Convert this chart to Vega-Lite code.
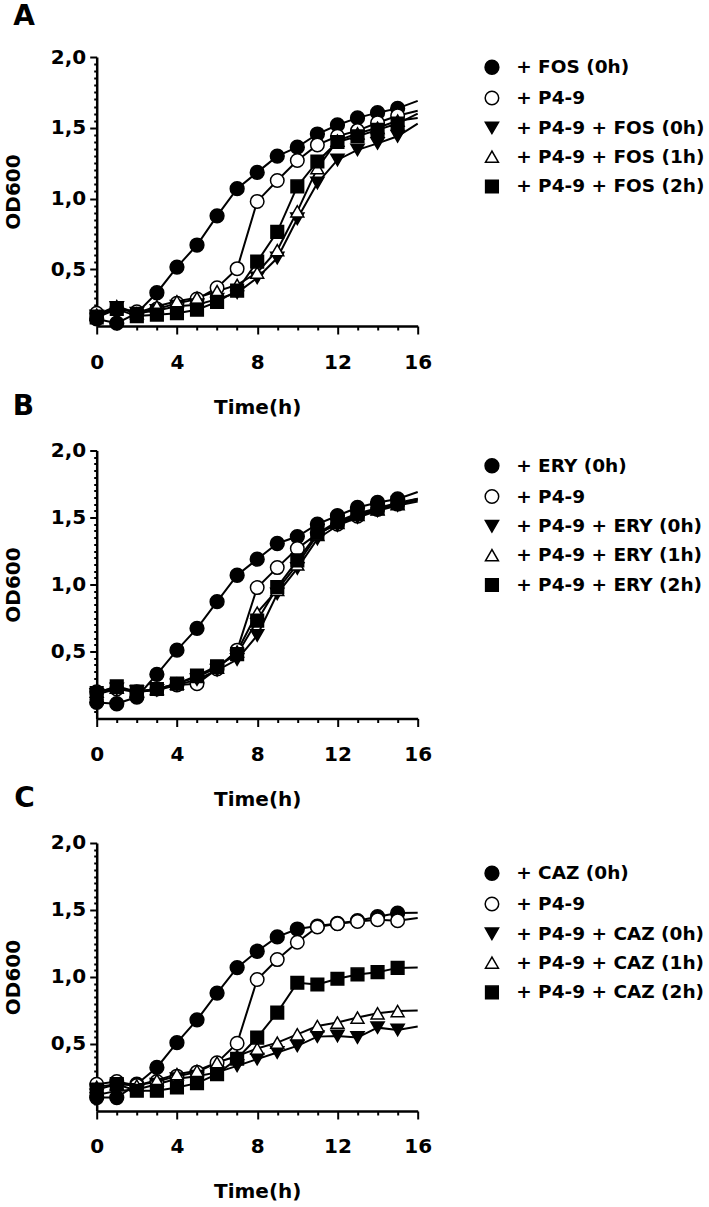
{
"$schema": "https://vega.github.io/schema/vega-lite/v6.json",
"autosize": {"type": "pad"},
"padding": {"left": 2.7, "top": 3, "right": 0, "bottom": 0},
"bounds": "flush",
"spacing": 124.5,
"config": {
  "font": "DejaVu Sans",
  "view": {"stroke": null},
  "axis": {"domainColor": "black", "domainWidth": 2.5, "tickColor": "black", "tickWidth": 2, "labelFont": "DejaVu Sans", "labelFontSize": 20, "labelFontWeight": "bold", "labelColor": "black", "titleFont": "DejaVu Sans", "titleFontSize": 20, "titleFontWeight": "bold", "titleColor": "black", "grid": false, "labelFlush": false, "labelOverlap": false},
  "legend": {"labelFont": "DejaVu Sans", "labelFontSize": 18.5, "labelFontWeight": "bold", "labelColor": "black", "rowPadding": 9.8, "labelOffset": 15, "symbolStrokeColor": "black", "symbolStrokeWidth": 1.5, "symbolOpacity": 1, "labelLimit": 400},
  "title": {"font": "DejaVu Sans", "fontSize": 28, "fontWeight": "bold", "color": "black", "anchor": "start", "frame": "group", "baseline": "alphabetic"}
},
"datasets": {"g": [
{"p":"A","s":"+ FOS (0h)","t":0,"v":0.15},{"p":"A","s":"+ FOS (0h)","t":1,"v":0.12},{"p":"A","s":"+ FOS (0h)","t":2,"v":0.19},{"p":"A","s":"+ FOS (0h)","t":3,"v":0.335},{"p":"A","s":"+ FOS (0h)","t":4,"v":0.516},{"p":"A","s":"+ FOS (0h)","t":5,"v":0.672},{"p":"A","s":"+ FOS (0h)","t":6,"v":0.878},{"p":"A","s":"+ FOS (0h)","t":7,"v":1.07},{"p":"A","s":"+ FOS (0h)","t":8,"v":1.185},{"p":"A","s":"+ FOS (0h)","t":9,"v":1.3},{"p":"A","s":"+ FOS (0h)","t":10,"v":1.363},{"p":"A","s":"+ FOS (0h)","t":11,"v":1.456},{"p":"A","s":"+ FOS (0h)","t":12,"v":1.52},{"p":"A","s":"+ FOS (0h)","t":13,"v":1.57},{"p":"A","s":"+ FOS (0h)","t":14,"v":1.607},{"p":"A","s":"+ FOS (0h)","t":15,"v":1.637},{"p":"A","s":"+ FOS (0h)","t":16,"v":1.69},
{"p":"A","s":"+ P4-9","t":0,"v":0.19},{"p":"A","s":"+ P4-9","t":1,"v":0.22},{"p":"A","s":"+ P4-9","t":2,"v":0.2},{"p":"A","s":"+ P4-9","t":3,"v":0.22},{"p":"A","s":"+ P4-9","t":4,"v":0.26},{"p":"A","s":"+ P4-9","t":5,"v":0.29},{"p":"A","s":"+ P4-9","t":6,"v":0.37},{"p":"A","s":"+ P4-9","t":7,"v":0.505},{"p":"A","s":"+ P4-9","t":8,"v":0.98},{"p":"A","s":"+ P4-9","t":9,"v":1.128},{"p":"A","s":"+ P4-9","t":10,"v":1.269},{"p":"A","s":"+ P4-9","t":11,"v":1.379},{"p":"A","s":"+ P4-9","t":12,"v":1.44},{"p":"A","s":"+ P4-9","t":13,"v":1.48},{"p":"A","s":"+ P4-9","t":14,"v":1.536},{"p":"A","s":"+ P4-9","t":15,"v":1.585},{"p":"A","s":"+ P4-9","t":16,"v":1.62},
{"p":"A","s":"+ P4-9 + FOS (0h)","t":0,"v":0.17},{"p":"A","s":"+ P4-9 + FOS (0h)","t":1,"v":0.23},{"p":"A","s":"+ P4-9 + FOS (0h)","t":2,"v":0.19},{"p":"A","s":"+ P4-9 + FOS (0h)","t":3,"v":0.21},{"p":"A","s":"+ P4-9 + FOS (0h)","t":4,"v":0.24},{"p":"A","s":"+ P4-9 + FOS (0h)","t":5,"v":0.25},{"p":"A","s":"+ P4-9 + FOS (0h)","t":6,"v":0.29},{"p":"A","s":"+ P4-9 + FOS (0h)","t":7,"v":0.335},{"p":"A","s":"+ P4-9 + FOS (0h)","t":8,"v":0.44},{"p":"A","s":"+ P4-9 + FOS (0h)","t":9,"v":0.58},{"p":"A","s":"+ P4-9 + FOS (0h)","t":10,"v":0.857},{"p":"A","s":"+ P4-9 + FOS (0h)","t":11,"v":1.11},{"p":"A","s":"+ P4-9 + FOS (0h)","t":12,"v":1.273},{"p":"A","s":"+ P4-9 + FOS (0h)","t":13,"v":1.344},{"p":"A","s":"+ P4-9 + FOS (0h)","t":14,"v":1.39},{"p":"A","s":"+ P4-9 + FOS (0h)","t":15,"v":1.44},{"p":"A","s":"+ P4-9 + FOS (0h)","t":16,"v":1.53},
{"p":"A","s":"+ P4-9 + FOS (1h)","t":0,"v":0.18},{"p":"A","s":"+ P4-9 + FOS (1h)","t":1,"v":0.24},{"p":"A","s":"+ P4-9 + FOS (1h)","t":2,"v":0.19},{"p":"A","s":"+ P4-9 + FOS (1h)","t":3,"v":0.24},{"p":"A","s":"+ P4-9 + FOS (1h)","t":4,"v":0.275},{"p":"A","s":"+ P4-9 + FOS (1h)","t":5,"v":0.3},{"p":"A","s":"+ P4-9 + FOS (1h)","t":6,"v":0.346},{"p":"A","s":"+ P4-9 + FOS (1h)","t":7,"v":0.39},{"p":"A","s":"+ P4-9 + FOS (1h)","t":8,"v":0.477},{"p":"A","s":"+ P4-9 + FOS (1h)","t":9,"v":0.636},{"p":"A","s":"+ P4-9 + FOS (1h)","t":10,"v":0.91},{"p":"A","s":"+ P4-9 + FOS (1h)","t":11,"v":1.215},{"p":"A","s":"+ P4-9 + FOS (1h)","t":12,"v":1.41},{"p":"A","s":"+ P4-9 + FOS (1h)","t":13,"v":1.46},{"p":"A","s":"+ P4-9 + FOS (1h)","t":14,"v":1.5},{"p":"A","s":"+ P4-9 + FOS (1h)","t":15,"v":1.55},{"p":"A","s":"+ P4-9 + FOS (1h)","t":16,"v":1.57},
{"p":"A","s":"+ P4-9 + FOS (2h)","t":0,"v":0.16},{"p":"A","s":"+ P4-9 + FOS (2h)","t":1,"v":0.22},{"p":"A","s":"+ P4-9 + FOS (2h)","t":2,"v":0.17},{"p":"A","s":"+ P4-9 + FOS (2h)","t":3,"v":0.18},{"p":"A","s":"+ P4-9 + FOS (2h)","t":4,"v":0.19},{"p":"A","s":"+ P4-9 + FOS (2h)","t":5,"v":0.215},{"p":"A","s":"+ P4-9 + FOS (2h)","t":6,"v":0.27},{"p":"A","s":"+ P4-9 + FOS (2h)","t":7,"v":0.35},{"p":"A","s":"+ P4-9 + FOS (2h)","t":8,"v":0.555},{"p":"A","s":"+ P4-9 + FOS (2h)","t":9,"v":0.765},{"p":"A","s":"+ P4-9 + FOS (2h)","t":10,"v":1.086},{"p":"A","s":"+ P4-9 + FOS (2h)","t":11,"v":1.262},{"p":"A","s":"+ P4-9 + FOS (2h)","t":12,"v":1.4},{"p":"A","s":"+ P4-9 + FOS (2h)","t":13,"v":1.44},{"p":"A","s":"+ P4-9 + FOS (2h)","t":14,"v":1.485},{"p":"A","s":"+ P4-9 + FOS (2h)","t":15,"v":1.53},{"p":"A","s":"+ P4-9 + FOS (2h)","t":16,"v":1.6},
{"p":"B","s":"+ ERY (0h)","t":0,"v":0.12},{"p":"B","s":"+ ERY (0h)","t":1,"v":0.11},{"p":"B","s":"+ ERY (0h)","t":2,"v":0.16},{"p":"B","s":"+ ERY (0h)","t":3,"v":0.33},{"p":"B","s":"+ ERY (0h)","t":4,"v":0.51},{"p":"B","s":"+ ERY (0h)","t":5,"v":0.673},{"p":"B","s":"+ ERY (0h)","t":6,"v":0.872},{"p":"B","s":"+ ERY (0h)","t":7,"v":1.069},{"p":"B","s":"+ ERY (0h)","t":8,"v":1.189},{"p":"B","s":"+ ERY (0h)","t":9,"v":1.306},{"p":"B","s":"+ ERY (0h)","t":10,"v":1.358},{"p":"B","s":"+ ERY (0h)","t":11,"v":1.45},{"p":"B","s":"+ ERY (0h)","t":12,"v":1.513},{"p":"B","s":"+ ERY (0h)","t":13,"v":1.575},{"p":"B","s":"+ ERY (0h)","t":14,"v":1.612},{"p":"B","s":"+ ERY (0h)","t":15,"v":1.638},{"p":"B","s":"+ ERY (0h)","t":16,"v":1.69},
{"p":"B","s":"+ P4-9","t":0,"v":0.2},{"p":"B","s":"+ P4-9","t":1,"v":0.22},{"p":"B","s":"+ P4-9","t":2,"v":0.2},{"p":"B","s":"+ P4-9","t":3,"v":0.22},{"p":"B","s":"+ P4-9","t":4,"v":0.25},{"p":"B","s":"+ P4-9","t":5,"v":0.26},{"p":"B","s":"+ P4-9","t":6,"v":0.37},{"p":"B","s":"+ P4-9","t":7,"v":0.51},{"p":"B","s":"+ P4-9","t":8,"v":0.977},{"p":"B","s":"+ P4-9","t":9,"v":1.126},{"p":"B","s":"+ P4-9","t":10,"v":1.268},{"p":"B","s":"+ P4-9","t":11,"v":1.38},{"p":"B","s":"+ P4-9","t":12,"v":1.45},{"p":"B","s":"+ P4-9","t":13,"v":1.51},{"p":"B","s":"+ P4-9","t":14,"v":1.56},{"p":"B","s":"+ P4-9","t":15,"v":1.6},{"p":"B","s":"+ P4-9","t":16,"v":1.64},
{"p":"B","s":"+ P4-9 + ERY (0h)","t":0,"v":0.18},{"p":"B","s":"+ P4-9 + ERY (0h)","t":1,"v":0.22},{"p":"B","s":"+ P4-9 + ERY (0h)","t":2,"v":0.2},{"p":"B","s":"+ P4-9 + ERY (0h)","t":3,"v":0.21},{"p":"B","s":"+ P4-9 + ERY (0h)","t":4,"v":0.25},{"p":"B","s":"+ P4-9 + ERY (0h)","t":5,"v":0.29},{"p":"B","s":"+ P4-9 + ERY (0h)","t":6,"v":0.36},{"p":"B","s":"+ P4-9 + ERY (0h)","t":7,"v":0.44},{"p":"B","s":"+ P4-9 + ERY (0h)","t":8,"v":0.62},{"p":"B","s":"+ P4-9 + ERY (0h)","t":9,"v":0.93},{"p":"B","s":"+ P4-9 + ERY (0h)","t":10,"v":1.12},{"p":"B","s":"+ P4-9 + ERY (0h)","t":11,"v":1.34},{"p":"B","s":"+ P4-9 + ERY (0h)","t":12,"v":1.44},{"p":"B","s":"+ P4-9 + ERY (0h)","t":13,"v":1.5},{"p":"B","s":"+ P4-9 + ERY (0h)","t":14,"v":1.55},{"p":"B","s":"+ P4-9 + ERY (0h)","t":15,"v":1.59},{"p":"B","s":"+ P4-9 + ERY (0h)","t":16,"v":1.62},
{"p":"B","s":"+ P4-9 + ERY (1h)","t":0,"v":0.2},{"p":"B","s":"+ P4-9 + ERY (1h)","t":1,"v":0.23},{"p":"B","s":"+ P4-9 + ERY (1h)","t":2,"v":0.2},{"p":"B","s":"+ P4-9 + ERY (1h)","t":3,"v":0.22},{"p":"B","s":"+ P4-9 + ERY (1h)","t":4,"v":0.26},{"p":"B","s":"+ P4-9 + ERY (1h)","t":5,"v":0.31},{"p":"B","s":"+ P4-9 + ERY (1h)","t":6,"v":0.38},{"p":"B","s":"+ P4-9 + ERY (1h)","t":7,"v":0.5},{"p":"B","s":"+ P4-9 + ERY (1h)","t":8,"v":0.79},{"p":"B","s":"+ P4-9 + ERY (1h)","t":9,"v":0.96},{"p":"B","s":"+ P4-9 + ERY (1h)","t":10,"v":1.15},{"p":"B","s":"+ P4-9 + ERY (1h)","t":11,"v":1.37},{"p":"B","s":"+ P4-9 + ERY (1h)","t":12,"v":1.46},{"p":"B","s":"+ P4-9 + ERY (1h)","t":13,"v":1.52},{"p":"B","s":"+ P4-9 + ERY (1h)","t":14,"v":1.56},{"p":"B","s":"+ P4-9 + ERY (1h)","t":15,"v":1.6},{"p":"B","s":"+ P4-9 + ERY (1h)","t":16,"v":1.63},
{"p":"B","s":"+ P4-9 + ERY (2h)","t":0,"v":0.19},{"p":"B","s":"+ P4-9 + ERY (2h)","t":1,"v":0.24},{"p":"B","s":"+ P4-9 + ERY (2h)","t":2,"v":0.2},{"p":"B","s":"+ P4-9 + ERY (2h)","t":3,"v":0.22},{"p":"B","s":"+ P4-9 + ERY (2h)","t":4,"v":0.26},{"p":"B","s":"+ P4-9 + ERY (2h)","t":5,"v":0.32},{"p":"B","s":"+ P4-9 + ERY (2h)","t":6,"v":0.39},{"p":"B","s":"+ P4-9 + ERY (2h)","t":7,"v":0.48},{"p":"B","s":"+ P4-9 + ERY (2h)","t":8,"v":0.73},{"p":"B","s":"+ P4-9 + ERY (2h)","t":9,"v":0.98},{"p":"B","s":"+ P4-9 + ERY (2h)","t":10,"v":1.18},{"p":"B","s":"+ P4-9 + ERY (2h)","t":11,"v":1.38},{"p":"B","s":"+ P4-9 + ERY (2h)","t":12,"v":1.47},{"p":"B","s":"+ P4-9 + ERY (2h)","t":13,"v":1.53},{"p":"B","s":"+ P4-9 + ERY (2h)","t":14,"v":1.57},{"p":"B","s":"+ P4-9 + ERY (2h)","t":15,"v":1.61},{"p":"B","s":"+ P4-9 + ERY (2h)","t":16,"v":1.64},
{"p":"C","s":"+ CAZ (0h)","t":0,"v":0.1},{"p":"C","s":"+ CAZ (0h)","t":1,"v":0.1},{"p":"C","s":"+ CAZ (0h)","t":2,"v":0.2},{"p":"C","s":"+ CAZ (0h)","t":3,"v":0.325},{"p":"C","s":"+ CAZ (0h)","t":4,"v":0.51},{"p":"C","s":"+ CAZ (0h)","t":5,"v":0.68},{"p":"C","s":"+ CAZ (0h)","t":6,"v":0.88},{"p":"C","s":"+ CAZ (0h)","t":7,"v":1.07},{"p":"C","s":"+ CAZ (0h)","t":8,"v":1.192},{"p":"C","s":"+ CAZ (0h)","t":9,"v":1.299},{"p":"C","s":"+ CAZ (0h)","t":10,"v":1.358},{"p":"C","s":"+ CAZ (0h)","t":11,"v":1.38},{"p":"C","s":"+ CAZ (0h)","t":12,"v":1.4},{"p":"C","s":"+ CAZ (0h)","t":13,"v":1.42},{"p":"C","s":"+ CAZ (0h)","t":14,"v":1.45},{"p":"C","s":"+ CAZ (0h)","t":15,"v":1.477},{"p":"C","s":"+ CAZ (0h)","t":16,"v":1.48},
{"p":"C","s":"+ P4-9","t":0,"v":0.2},{"p":"C","s":"+ P4-9","t":1,"v":0.22},{"p":"C","s":"+ P4-9","t":2,"v":0.19},{"p":"C","s":"+ P4-9","t":3,"v":0.22},{"p":"C","s":"+ P4-9","t":4,"v":0.26},{"p":"C","s":"+ P4-9","t":5,"v":0.29},{"p":"C","s":"+ P4-9","t":6,"v":0.36},{"p":"C","s":"+ P4-9","t":7,"v":0.506},{"p":"C","s":"+ P4-9","t":8,"v":0.981},{"p":"C","s":"+ P4-9","t":9,"v":1.13},{"p":"C","s":"+ P4-9","t":10,"v":1.259},{"p":"C","s":"+ P4-9","t":11,"v":1.373},{"p":"C","s":"+ P4-9","t":12,"v":1.398},{"p":"C","s":"+ P4-9","t":13,"v":1.415},{"p":"C","s":"+ P4-9","t":14,"v":1.428},{"p":"C","s":"+ P4-9","t":15,"v":1.42},{"p":"C","s":"+ P4-9","t":16,"v":1.44},
{"p":"C","s":"+ P4-9 + CAZ (0h)","t":0,"v":0.12},{"p":"C","s":"+ P4-9 + CAZ (0h)","t":1,"v":0.15},{"p":"C","s":"+ P4-9 + CAZ (0h)","t":2,"v":0.16},{"p":"C","s":"+ P4-9 + CAZ (0h)","t":3,"v":0.2},{"p":"C","s":"+ P4-9 + CAZ (0h)","t":4,"v":0.24},{"p":"C","s":"+ P4-9 + CAZ (0h)","t":5,"v":0.26},{"p":"C","s":"+ P4-9 + CAZ (0h)","t":6,"v":0.288},{"p":"C","s":"+ P4-9 + CAZ (0h)","t":7,"v":0.337},{"p":"C","s":"+ P4-9 + CAZ (0h)","t":8,"v":0.387},{"p":"C","s":"+ P4-9 + CAZ (0h)","t":9,"v":0.436},{"p":"C","s":"+ P4-9 + CAZ (0h)","t":10,"v":0.486},{"p":"C","s":"+ P4-9 + CAZ (0h)","t":11,"v":0.555},{"p":"C","s":"+ P4-9 + CAZ (0h)","t":12,"v":0.56},{"p":"C","s":"+ P4-9 + CAZ (0h)","t":13,"v":0.548},{"p":"C","s":"+ P4-9 + CAZ (0h)","t":14,"v":0.622},{"p":"C","s":"+ P4-9 + CAZ (0h)","t":15,"v":0.605},{"p":"C","s":"+ P4-9 + CAZ (0h)","t":16,"v":0.63},
{"p":"C","s":"+ P4-9 + CAZ (1h)","t":0,"v":0.18},{"p":"C","s":"+ P4-9 + CAZ (1h)","t":1,"v":0.2},{"p":"C","s":"+ P4-9 + CAZ (1h)","t":2,"v":0.19},{"p":"C","s":"+ P4-9 + CAZ (1h)","t":3,"v":0.23},{"p":"C","s":"+ P4-9 + CAZ (1h)","t":4,"v":0.275},{"p":"C","s":"+ P4-9 + CAZ (1h)","t":5,"v":0.3},{"p":"C","s":"+ P4-9 + CAZ (1h)","t":6,"v":0.362},{"p":"C","s":"+ P4-9 + CAZ (1h)","t":7,"v":0.41},{"p":"C","s":"+ P4-9 + CAZ (1h)","t":8,"v":0.466},{"p":"C","s":"+ P4-9 + CAZ (1h)","t":9,"v":0.51},{"p":"C","s":"+ P4-9 + CAZ (1h)","t":10,"v":0.572},{"p":"C","s":"+ P4-9 + CAZ (1h)","t":11,"v":0.634},{"p":"C","s":"+ P4-9 + CAZ (1h)","t":12,"v":0.66},{"p":"C","s":"+ P4-9 + CAZ (1h)","t":13,"v":0.697},{"p":"C","s":"+ P4-9 + CAZ (1h)","t":14,"v":0.729},{"p":"C","s":"+ P4-9 + CAZ (1h)","t":15,"v":0.746},{"p":"C","s":"+ P4-9 + CAZ (1h)","t":16,"v":0.75},
{"p":"C","s":"+ P4-9 + CAZ (2h)","t":0,"v":0.16},{"p":"C","s":"+ P4-9 + CAZ (2h)","t":1,"v":0.2},{"p":"C","s":"+ P4-9 + CAZ (2h)","t":2,"v":0.151},{"p":"C","s":"+ P4-9 + CAZ (2h)","t":3,"v":0.151},{"p":"C","s":"+ P4-9 + CAZ (2h)","t":4,"v":0.176},{"p":"C","s":"+ P4-9 + CAZ (2h)","t":5,"v":0.208},{"p":"C","s":"+ P4-9 + CAZ (2h)","t":6,"v":0.275},{"p":"C","s":"+ P4-9 + CAZ (2h)","t":7,"v":0.39},{"p":"C","s":"+ P4-9 + CAZ (2h)","t":8,"v":0.548},{"p":"C","s":"+ P4-9 + CAZ (2h)","t":9,"v":0.734},{"p":"C","s":"+ P4-9 + CAZ (2h)","t":10,"v":0.957},{"p":"C","s":"+ P4-9 + CAZ (2h)","t":11,"v":0.944},{"p":"C","s":"+ P4-9 + CAZ (2h)","t":12,"v":0.987},{"p":"C","s":"+ P4-9 + CAZ (2h)","t":13,"v":1.019},{"p":"C","s":"+ P4-9 + CAZ (2h)","t":14,"v":1.036},{"p":"C","s":"+ P4-9 + CAZ (2h)","t":15,"v":1.068},{"p":"C","s":"+ P4-9 + CAZ (2h)","t":16,"v":1.07}
]},
"resolve": {"scale": {"shape": "independent", "fill": "independent", "size": "independent", "stroke": "independent", "x": "independent", "y": "independent"}, "legend": {"shape": "independent", "fill": "independent", "size": "independent", "stroke": "independent"}},
"vconcat": [
{
  "title": {"text": "A", "dx": -83.5, "offset": 16},
  "width": 321, "height": 269,
  "data": {"name": "g"},
  "transform": [{"filter": "datum.p == 'A'"}],
  "encoding": {
    "x": {"field": "t", "type": "quantitative", "scale": {"domain": [0, 16], "nice": false, "zero": false},
      "axis": {"title": "Time(h)", "values": [0,1,2,3,4,5,6,7,8,9,10,11,12,13,14,15,16], "labelExpr": "datum.value % 4 == 0 ? datum.label : ''", "tickSize": {"condition": {"test": "datum.value % 4 == 0", "value": 8}, "value": 4}, "labelPadding": 18, "titlePadding": 25}},
    "y": {"field": "v", "type": "quantitative", "scale": {"domain": [0.1, 2.0], "nice": false, "zero": false},
      "axis": {"title": "OD600", "values": [0.15,0.2,0.25,0.3,0.35,0.4,0.45,0.5,0.55,0.6,0.65,0.7,0.75,0.8,0.85,0.9,0.95,1,1.05,1.1,1.15,1.2,1.25,1.3,1.35,1.4,1.45,1.5,1.55,1.6,1.65,1.7,1.75,1.8,1.85,1.9,1.95,2], "labelExpr": "datum.value==0.5?'0,5':datum.value==1?'1,0':datum.value==1.5?'1,5':datum.value==2?'2,0':''", "tickSize": {"condition": {"test": "indexof([0.5,1,1.5,2], datum.value) >= 0", "value": 7}, "value": 3}, "labelPadding": 4, "titlePadding": 26.7}}
  },
  "layer": [
    {"mark": {"type": "line", "color": "black", "strokeWidth": 2}, "encoding": {"detail": {"field": "s"}}},
    {"transform": [{"filter": "datum.t < 16"}],
     "mark": {"type": "point", "strokeWidth": 1.5, "opacity": 1},
     "encoding": {
      "shape": {"field": "s", "type": "nominal", "scale": {"domain": ["+ FOS (0h)", "+ P4-9", "+ P4-9 + FOS (0h)", "+ P4-9 + FOS (1h)", "+ P4-9 + FOS (2h)"], "range": ["circle", "circle", "triangle-down", "triangle-up", "square"]}, "legend": {"orient": "none", "legendX": 386, "legendY": 1, "title": null}},
      "fill": {"field": "s", "type": "nominal", "scale": {"domain": ["+ FOS (0h)", "+ P4-9", "+ P4-9 + FOS (0h)", "+ P4-9 + FOS (1h)", "+ P4-9 + FOS (2h)"], "range": ["black", "white", "black", "white", "black"]}, "legend": {"orient": "none", "legendX": 386, "legendY": 1, "title": null}},
      "stroke": {"field": "s", "type": "nominal", "scale": {"domain": ["+ FOS (0h)", "+ P4-9", "+ P4-9 + FOS (0h)", "+ P4-9 + FOS (1h)", "+ P4-9 + FOS (2h)"], "range": ["black", "black", "black", "black", "black"]}, "legend": {"orient": "none", "legendX": 386, "legendY": 1, "title": null}},
      "size": {"field": "s", "type": "nominal", "scale": {"domain": ["+ FOS (0h)", "+ P4-9", "+ P4-9 + FOS (0h)", "+ P4-9 + FOS (1h)", "+ P4-9 + FOS (2h)"], "range": [190, 160, 250, 170, 160]}, "legend": {"orient": "none", "legendX": 386, "legendY": 1, "title": null}}
    }}
  ]
},
{
  "title": {"text": "B", "dx": -84, "offset": 20},
  "width": 321, "height": 268,
  "data": {"name": "g"},
  "transform": [{"filter": "datum.p == 'B'"}],
  "encoding": {
    "x": {"field": "t", "type": "quantitative", "scale": {"domain": [0, 16], "nice": false, "zero": false},
      "axis": {"title": "Time(h)", "values": [0,1,2,3,4,5,6,7,8,9,10,11,12,13,14,15,16], "labelExpr": "datum.value % 4 == 0 ? datum.label : ''", "tickSize": {"condition": {"test": "datum.value % 4 == 0", "value": 8}, "value": 4}, "labelPadding": 18, "titlePadding": 25}},
    "y": {"field": "v", "type": "quantitative", "scale": {"domain": [0, 2.0], "nice": false, "zero": false},
      "axis": {"title": "OD600", "values": [0.05,0.1,0.15,0.2,0.25,0.3,0.35,0.4,0.45,0.5,0.55,0.6,0.65,0.7,0.75,0.8,0.85,0.9,0.95,1,1.05,1.1,1.15,1.2,1.25,1.3,1.35,1.4,1.45,1.5,1.55,1.6,1.65,1.7,1.75,1.8,1.85,1.9,1.95,2], "labelExpr": "datum.value==0.5?'0,5':datum.value==1?'1,0':datum.value==1.5?'1,5':datum.value==2?'2,0':''", "tickSize": {"condition": {"test": "indexof([0.5,1,1.5,2], datum.value) >= 0", "value": 7}, "value": 3}, "labelPadding": 4, "titlePadding": 26.7}}
  },
  "layer": [
    {"mark": {"type": "line", "color": "black", "strokeWidth": 2}, "encoding": {"detail": {"field": "s"}}},
    {"transform": [{"filter": "datum.t < 16"}],
     "mark": {"type": "point", "strokeWidth": 1.5, "opacity": 1},
     "encoding": {
      "shape": {"field": "s", "type": "nominal", "scale": {"domain": ["+ ERY (0h)", "+ P4-9", "+ P4-9 + ERY (0h)", "+ P4-9 + ERY (1h)", "+ P4-9 + ERY (2h)"], "range": ["circle", "circle", "triangle-down", "triangle-up", "square"]}, "legend": {"orient": "none", "legendX": 386, "legendY": 6, "title": null}},
      "fill": {"field": "s", "type": "nominal", "scale": {"domain": ["+ ERY (0h)", "+ P4-9", "+ P4-9 + ERY (0h)", "+ P4-9 + ERY (1h)", "+ P4-9 + ERY (2h)"], "range": ["black", "white", "black", "white", "black"]}, "legend": {"orient": "none", "legendX": 386, "legendY": 6, "title": null}},
      "stroke": {"field": "s", "type": "nominal", "scale": {"domain": ["+ ERY (0h)", "+ P4-9", "+ P4-9 + ERY (0h)", "+ P4-9 + ERY (1h)", "+ P4-9 + ERY (2h)"], "range": ["black", "black", "black", "black", "black"]}, "legend": {"orient": "none", "legendX": 386, "legendY": 6, "title": null}},
      "size": {"field": "s", "type": "nominal", "scale": {"domain": ["+ ERY (0h)", "+ P4-9", "+ P4-9 + ERY (0h)", "+ P4-9 + ERY (1h)", "+ P4-9 + ERY (2h)"], "range": [190, 160, 250, 170, 160]}, "legend": {"orient": "none", "legendX": 386, "legendY": 6, "title": null}}
    }}
  ]
},
{
  "title": {"text": "C", "dx": -82.5, "offset": 20},
  "width": 321, "height": 268,
  "data": {"name": "g"},
  "transform": [{"filter": "datum.p == 'C'"}],
  "encoding": {
    "x": {"field": "t", "type": "quantitative", "scale": {"domain": [0, 16], "nice": false, "zero": false},
      "axis": {"title": "Time(h)", "values": [0,1,2,3,4,5,6,7,8,9,10,11,12,13,14,15,16], "labelExpr": "datum.value % 4 == 0 ? datum.label : ''", "tickSize": {"condition": {"test": "datum.value % 4 == 0", "value": 8}, "value": 4}, "labelPadding": 18, "titlePadding": 25}},
    "y": {"field": "v", "type": "quantitative", "scale": {"domain": [0, 2.0], "nice": false, "zero": false},
      "axis": {"title": "OD600", "values": [0.05,0.1,0.15,0.2,0.25,0.3,0.35,0.4,0.45,0.5,0.55,0.6,0.65,0.7,0.75,0.8,0.85,0.9,0.95,1,1.05,1.1,1.15,1.2,1.25,1.3,1.35,1.4,1.45,1.5,1.55,1.6,1.65,1.7,1.75,1.8,1.85,1.9,1.95,2], "labelExpr": "datum.value==0.5?'0,5':datum.value==1?'1,0':datum.value==1.5?'1,5':datum.value==2?'2,0':''", "tickSize": {"condition": {"test": "indexof([0.5,1,1.5,2], datum.value) >= 0", "value": 7}, "value": 3}, "labelPadding": 4, "titlePadding": 26.7}}
  },
  "layer": [
    {"mark": {"type": "line", "color": "black", "strokeWidth": 2}, "encoding": {"detail": {"field": "s"}}},
    {"transform": [{"filter": "datum.t < 16"}],
     "mark": {"type": "point", "strokeWidth": 1.5, "opacity": 1},
     "encoding": {
      "shape": {"field": "s", "type": "nominal", "scale": {"domain": ["+ CAZ (0h)", "+ P4-9", "+ P4-9 + CAZ (0h)", "+ P4-9 + CAZ (1h)", "+ P4-9 + CAZ (2h)"], "range": ["circle", "circle", "triangle-down", "triangle-up", "square"]}, "legend": {"orient": "none", "legendX": 386, "legendY": 21, "title": null}},
      "fill": {"field": "s", "type": "nominal", "scale": {"domain": ["+ CAZ (0h)", "+ P4-9", "+ P4-9 + CAZ (0h)", "+ P4-9 + CAZ (1h)", "+ P4-9 + CAZ (2h)"], "range": ["black", "white", "black", "white", "black"]}, "legend": {"orient": "none", "legendX": 386, "legendY": 21, "title": null}},
      "stroke": {"field": "s", "type": "nominal", "scale": {"domain": ["+ CAZ (0h)", "+ P4-9", "+ P4-9 + CAZ (0h)", "+ P4-9 + CAZ (1h)", "+ P4-9 + CAZ (2h)"], "range": ["black", "black", "black", "black", "black"]}, "legend": {"orient": "none", "legendX": 386, "legendY": 21, "title": null}},
      "size": {"field": "s", "type": "nominal", "scale": {"domain": ["+ CAZ (0h)", "+ P4-9", "+ P4-9 + CAZ (0h)", "+ P4-9 + CAZ (1h)", "+ P4-9 + CAZ (2h)"], "range": [190, 160, 250, 170, 160]}, "legend": {"orient": "none", "legendX": 386, "legendY": 21, "title": null}}
    }}
  ]
}
]
}
